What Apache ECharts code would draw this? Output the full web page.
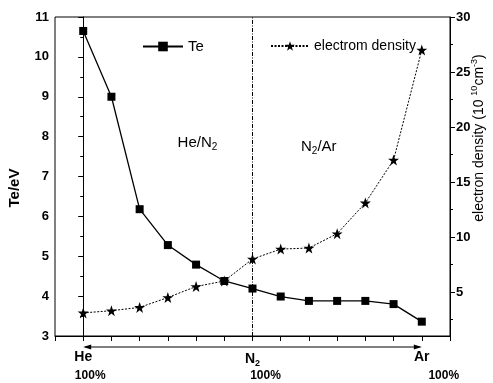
<!DOCTYPE html>
<html>
<head>
<meta charset="utf-8">
<script src="https://cdn.jsdelivr.net/npm/echarts@6/dist/echarts.min.js"></script>
<style>
html,body{margin:0;padding:0;background:#fff;}
#chart{width:493px;height:383px;}
</style>
</head>
<body>
<div id="chart"></div>
<script>
// Gas mixture positions (He 100% -> N2 100% -> Ar 100%)
const positions = [0, 1, 2, 3, 4, 5, 6, 7, 8, 9, 10, 11, 12];
const endLabels = { 0: 'He', 6: 'N{sub|2}', 12: 'Ar' };
const teValues = [10.65, 9.0, 6.18, 5.28, 4.79, 4.38, 4.19, 3.99, 3.88, 3.88, 3.88, 3.80, 3.36];
const densityValues = [3.1, 3.3, 3.6, 4.5, 5.5, 6.0, 8.0, 8.9, 9.0, 10.3, 13.1, 17.0, 27.0];
const rightTicks = [5, 10, 15, 20, 25, 30];
const rightMinorTicks = [2.5, 7.5, 12.5, 17.5, 22.5, 27.5];

const FONT = 'Liberation Sans, Arial, sans-serif';
const STAR = 'path://M50,0 L61.8,35.1 L98.1,35.1 L68.8,56.8 L79.4,91.9 L50,70.2 L20.6,91.9 L31.2,56.8 L1.9,35.1 L38.2,35.1 Z';

const chart = echarts.init(document.getElementById('chart'), null, { renderer: 'canvas' });

const option = {
  animation: false,
  backgroundColor: '#fff',
  grid: { left: 55, right: 43, top: 17, bottom: 47, show: true, borderColor: '#000', borderWidth: 1, backgroundColor: 'transparent' },
  legend: [
    { data: ['Te'], left: 137, top: 34, itemWidth: 40, itemHeight: 12, itemGap: 0,
      textStyle: { fontFamily: FONT, fontSize: 15, color: '#000' } },
    { data: ['electrom density'], left: 265, top: 34, itemWidth: 38, itemHeight: 12, itemGap: 0,
      textStyle: { fontFamily: FONT, fontSize: 14, color: '#000' } }
  ],
  xAxis: {
    type: 'value', min: -1, max: 13, interval: 1,
    splitLine: { show: false },
    axisLine: { lineStyle: { color: '#000', width: 1 } },
    axisTick: { show: true, inside: false, length: 5, lineStyle: { color: '#000', width: 1 } },
    axisLabel: {
      margin: 14, color: '#000', fontFamily: FONT, fontSize: 14, fontWeight: 'bold',
      formatter: function (v) { return endLabels[v] !== undefined ? endLabels[v] : ''; },
      rich: {
        sub: { fontFamily: FONT, fontSize: 9, fontWeight: 'bold', verticalAlign: 'bottom', padding: [9, 0, 0, 0], color: '#000' }
      }
    }
  },
  yAxis: [
    {
      type: 'value', min: 3, max: 11, interval: 1, position: 'left',
      splitLine: { show: false },
      axisLine: { show: true, lineStyle: { color: '#000' } },
      axisTick: { length: 5, lineStyle: { color: '#000' } },
      minorTick: { show: true, splitNumber: 2, length: 3, lineStyle: { color: '#000' } },
      axisLabel: { margin: 6, color: '#000', fontFamily: FONT, fontSize: 13, fontWeight: 'bold' }
    },
    {
      type: 'value', min: 1, max: 30, position: 'right',
      splitLine: { show: false },
      axisLine: { show: true, lineStyle: { color: '#000' } },
      axisTick: { length: 5, customValues: rightTicks, lineStyle: { color: '#000' } },
      axisLabel: { margin: 6, customValues: rightTicks, color: '#000', fontFamily: FONT, fontSize: 13, fontWeight: 'bold' }
    },
    {
      type: 'value', min: 1, max: 30, position: 'right',
      splitLine: { show: false },
      axisLine: { show: false },
      axisTick: { length: 3, customValues: rightMinorTicks, lineStyle: { color: '#000' } },
      axisLabel: { show: false }
    }
  ],
  series: [
    {
      name: 'Te', type: 'line', yAxisIndex: 0,
      data: positions.map((p, i) => [p, teValues[i]]),
      symbol: 'rect', symbolSize: 8,
      itemStyle: { color: '#000' },
      lineStyle: { color: '#000', width: 1.3 },
      markLine: {
        silent: true, symbol: 'none', animation: false,
        label: { show: false },
        lineStyle: { color: '#000', width: 1, type: [4, 1.5, 1, 1.5] },
        data: [{ xAxis: positions[6] }]
      },
      z: 3
    },
    {
      name: 'electrom density', type: 'line', yAxisIndex: 1,
      data: positions.map((p, i) => [p, densityValues[i]]),
      symbol: STAR, symbolSize: 11,
      itemStyle: { color: '#000' },
      lineStyle: { color: '#000', width: 1, type: [2, 1.5] },
      z: 3
    }
  ]
};
chart.setOption(option);

// Decorations positioned through the axes' own scales
const toPx = (x, y) => chart.convertToPixel({ xAxisIndex: 0, yAxisIndex: 0 }, [x, y]);
const p0 = toPx(positions[0], 3);
const p6 = toPx(positions[6], 3);
const p12 = toPx(positions[12], 3);
const pHe = toPx(4.05, 7.85);
const pAr = toPx(8.35, 7.75);
const ay = p0[1] + 11;
const pct = { fontFamily: FONT, fontSize: 12, fontWeight: 'bold', fill: '#000', align: 'center', verticalAlign: 'middle', text: '100%' };
const subRich = { s: { fontFamily: FONT, fontSize: 10, verticalAlign: 'bottom', padding: [9, 0, 0, 0], fill: '#000' } };

chart.setOption({
  graphic: [
    { type: 'line', shape: { x1: p0[0] + 2, y1: ay, x2: p12[0] - 2, y2: ay }, style: { stroke: '#000', lineWidth: 1 } },
    { type: 'polygon', shape: { points: [[p0[0], ay], [p0[0] + 8, ay - 2.5], [p0[0] + 8, ay + 2.5]] }, style: { fill: '#000' } },
    { type: 'polygon', shape: { points: [[p12[0], ay], [p12[0] - 8, ay - 2.5], [p12[0] - 8, ay + 2.5]] }, style: { fill: '#000' } },
    { type: 'text', x: p0[0] + 7, y: 376, style: Object.assign({}, pct) },
    { type: 'text', x: p6[0] + 13, y: 376, style: Object.assign({}, pct) },
    { type: 'text', x: p12[0] + 22, y: 376, style: Object.assign({}, pct) },
    { type: 'text', x: pHe[0], y: pHe[1], style: { text: 'He/N{s|2}', align: 'center', verticalAlign: 'middle',
        fontFamily: FONT, fontSize: 15, fill: '#000', rich: subRich } },
    { type: 'text', x: pAr[0], y: pAr[1], style: { text: 'N{s|2}/Ar', align: 'center', verticalAlign: 'middle',
        fontFamily: FONT, fontSize: 15, fill: '#000', rich: subRich } },
    { type: 'text', x: 15, y: 188, rotation: Math.PI / 2,
      style: { text: 'Te/eV', align: 'center', verticalAlign: 'middle', fontFamily: FONT, fontSize: 15, fontWeight: 'bold', fill: '#000' } },
    { type: 'text', x: 479, y: 138, rotation: Math.PI / 2,
      style: { text: 'electron density (10 {sup|10}cm{sup|-3})', align: 'center', verticalAlign: 'middle',
        fontFamily: FONT, fontSize: 14, fill: '#000',
        rich: { sup: { fontFamily: FONT, fontSize: 9, verticalAlign: 'top', padding: [0, 0, 8, 0], fill: '#000' } } } }
  ]
});
</script>
</body>
</html>
